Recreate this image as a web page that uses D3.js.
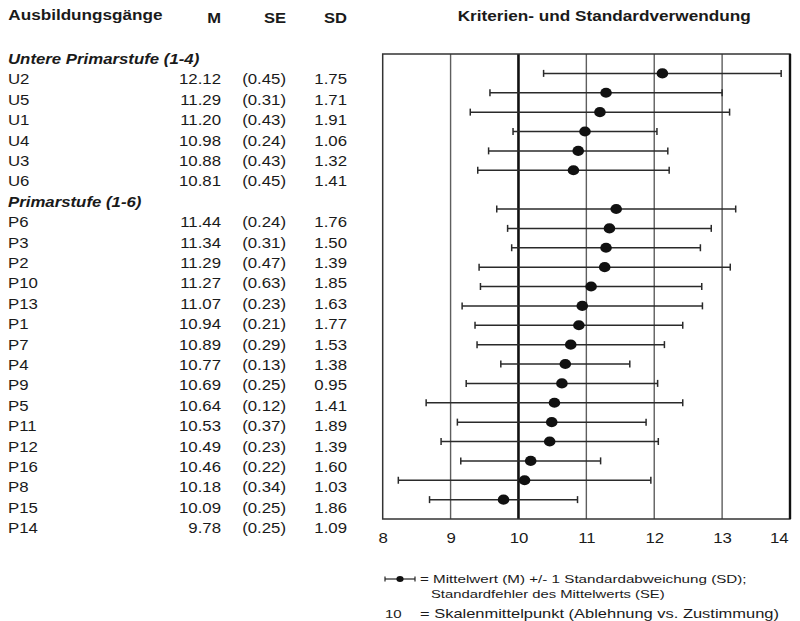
<!DOCTYPE html>
<html><head><meta charset="utf-8">
<script src="https://cdn.jsdelivr.net/npm/d3@7"></script>
<style>body{margin:0;background:#fff}svg{display:block}text{font-family:"Liberation Sans",Arial,sans-serif;fill:#1a1a1a}</style>
</head><body>
<svg id="c" width="800" height="621"></svg>
<script>
// ---- data ----
const headerCols = ["M", "SE", "SD"];
const uTitle = "Untere Primarstufe (1-4)";
const uLabels = ["U2","U5","U1","U4","U3","U6"];
const uM  = [12.12,11.29,11.20,10.98,10.88,10.81];
const uSE = [0.45,0.31,0.43,0.24,0.43,0.45];
const uSD = [1.75,1.71,1.91,1.06,1.32,1.41];
const pTitle = "Primarstufe (1-6)";
const pLabels = ["P6","P3","P2","P10","P13","P1","P7","P4","P9","P5","P11","P12","P16","P8","P15","P14"];
const pM  = [11.44,11.34,11.29,11.27,11.07,10.94,10.89,10.77,10.69,10.64,10.53,10.49,10.46,10.18,10.09,9.78];
const pSE = [0.24,0.31,0.47,0.63,0.23,0.21,0.29,0.13,0.25,0.12,0.37,0.23,0.22,0.34,0.25,0.25];
const pSD = [1.76,1.50,1.39,1.85,1.63,1.77,1.53,1.38,0.95,1.41,1.89,1.39,1.60,1.03,1.86,1.09];
const xTicks = [8,9,10,11,12,13,14];
const midpoint = 10;

// ---- layout ----
const svg = d3.select("#c");
const SX = 1.2;
function txt(x, y, s, o = {}) {
  const t = svg.append("text")
    .attr("text-anchor", o.anchor || "start")
    .style("font-size", (o.size || 14) + "px")
    .style("font-weight", o.bold ? "bold" : null)
    .style("font-style", o.italic ? "italic" : null)
    .text(s);
  let sx = o.sx || SX;
  if (o.w) { const len = t.node().getComputedTextLength(); if (len > 0) sx = o.w / len; }
  t.attr("transform", `translate(${x},${y}) scale(${sx},1)`);
  return t;
}
const fmt2 = d3.format(".2f");

// table
txt(8.3, 20, "Ausbildungsgänge", {bold: true, size: 13.8, w: 154.4});
const colX = [221, 286, 347];
headerCols.forEach((h, i) => txt(colX[i], 23.3, h, {bold: true, anchor: "end", size: 13.8}));

const rowY = i => 63.9 + 20.4 * i;
const rows = [];
rows.push({title: uTitle});
uLabels.forEach((l, i) => rows.push({l, m: uM[i], se: uSE[i], sd: uSD[i]}));
rows.push({title: pTitle});
pLabels.forEach((l, i) => rows.push({l, m: pM[i], se: pSE[i], sd: pSD[i]}));
rows.forEach((r, i) => {
  const y = rowY(i);
  if (r.title) { txt(8, y, r.title, {bold: true, italic: true}); return; }
  txt(8, y, r.l);
  txt(colX[0], y, fmt2(r.m), {anchor: "end"});
  txt(colX[1], y, "(" + fmt2(r.se) + ")", {anchor: "end"});
  txt(colX[2], y, fmt2(r.sd), {anchor: "end"});
});

// plot
const x0 = 382.7, x1 = 790, y0 = 54, y1 = 519;
const x = d3.scaleLinear().domain([xTicks[0], xTicks[xTicks.length - 1]]).range([x0, x1]);
const yPos = d3.scaleLinear().domain([0, 24]).range([y0, y1]);

txt(457.7, 21, "Kriterien- und Standardverwendung", {bold: true, size: 13.8, w: 293});

const pts = [];
uLabels.forEach((l, i) => pts.push({m: uM[i], sd: uSD[i], r: i + 1}));
pLabels.forEach((l, i) => pts.push({m: pM[i], sd: pSD[i], r: uLabels.length + 2 + i}));

const g = svg.append("g");
// gridlines
g.selectAll("line.grid").data(xTicks.slice(1, -1).filter(t => t !== midpoint)).join("line")
  .attr("x1", d => x(d)).attr("x2", d => x(d)).attr("y1", y0).attr("y2", y1)
  .attr("stroke", "#5e5e5e").attr("stroke-width", 1.4);
g.append("line").attr("x1", x(midpoint)).attr("x2", x(midpoint)).attr("y1", y0).attr("y2", y1)
  .attr("stroke", "#111").attr("stroke-width", 2.6);
// box
g.append("rect").attr("x", x0).attr("y", y0).attr("width", x1 - x0).attr("height", y1 - y0)
  .attr("fill", "none").attr("stroke", "#333").attr("stroke-width", 1.5);
g.append("line").attr("x1", x1).attr("x2", x1).attr("y1", y0).attr("y2", y1)
  .attr("stroke", "#111").attr("stroke-width", 2.4);

// error bars
const eb = g.selectAll("g.eb").data(pts).join("g").attr("class", "eb");
eb.append("line").attr("x1", d => x(d.m - d.sd)).attr("x2", d => x(d.m + d.sd))
  .attr("y1", d => yPos(d.r)).attr("y2", d => yPos(d.r)).attr("stroke", "#2a2a2a").attr("stroke-width", 1.5);
[-1, 1].forEach(s => {
  eb.append("line").attr("x1", d => x(d.m + s * d.sd)).attr("x2", d => x(d.m + s * d.sd))
    .attr("y1", d => yPos(d.r) - 3.5).attr("y2", d => yPos(d.r) + 3.5).attr("stroke", "#2a2a2a").attr("stroke-width", 1.5);
});
eb.append("ellipse").attr("cx", d => x(d.m)).attr("cy", d => yPos(d.r)).attr("rx", 5.8).attr("ry", 5.1).attr("fill", "#111");

// axis
const ax = svg.append("g").attr("transform", `translate(0,${y1})`)
  .call(d3.axisBottom(x).tickValues(xTicks).tickSize(0).tickPadding(0).tickFormat(d3.format("d")));
ax.select(".domain").remove();
ax.selectAll("text").attr("y", 23.7).attr("dy", null)
  .attr("transform", `scale(${SX},1)`).style("font-size", "14px").style("font-family", '"Liberation Sans",Arial,sans-serif').attr("fill", "#1a1a1a");
ax.selectAll(".tick").filter(d => d === xTicks[xTicks.length - 1]).select("text")
  .attr("text-anchor", "end").attr("x", -1.5);

// legend
const ly = 579;
svg.append("line").attr("x1", 385).attr("x2", 415).attr("y1", ly).attr("y2", ly).attr("stroke", "#222").attr("stroke-width", 1.2);
[385, 415].forEach(xx => svg.append("line").attr("x1", xx).attr("x2", xx).attr("y1", ly - 2.5).attr("y2", ly + 2.5).attr("stroke", "#222").attr("stroke-width", 1.2));
svg.append("ellipse").attr("cx", 400).attr("cy", ly).attr("rx", 3.6).attr("ry", 3).attr("fill", "#111");
txt(420, 583, "= Mittelwert (M) +/- 1 Standardabweichung (SD);", {size: 11.8, w: 326.7});
txt(431, 597.5, "Standardfehler des Mittelwerts (SE)", {size: 11.8, w: 234});
txt(385, 618, "10", {size: 11.8, w: 16.7});
txt(420, 618, "= Skalenmittelpunkt (Ablehnung vs. Zustimmung)", {size: 12.4, w: 359});
</script>
</body></html>
